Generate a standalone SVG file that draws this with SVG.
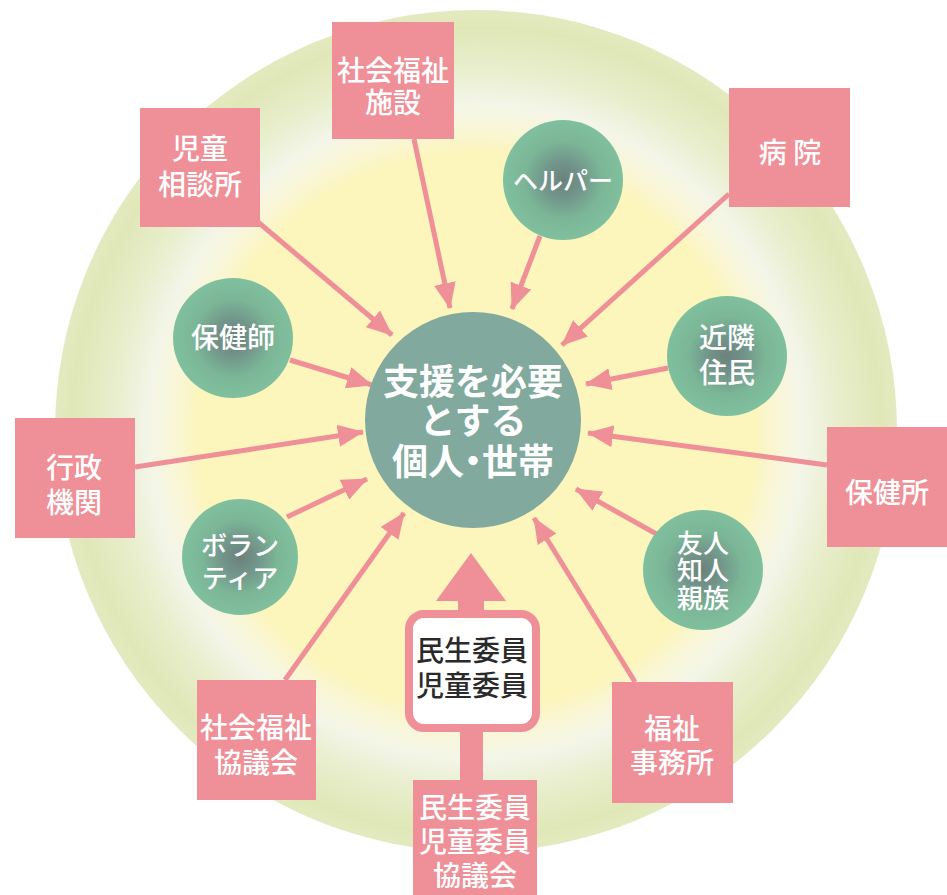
<svg xmlns="http://www.w3.org/2000/svg" width="947" height="895" viewBox="0 0 947 895">
<defs>
<radialGradient id="bg" cx="476" cy="431" r="421" gradientUnits="userSpaceOnUse">
<stop offset="0" stop-color="#fcf5bc"/>
<stop offset="0.66" stop-color="#fcf5bc"/>
<stop offset="0.72" stop-color="#f9f6d8"/>
<stop offset="0.78" stop-color="#f3f5e8"/>
<stop offset="0.86" stop-color="#e9eecd"/>
<stop offset="0.96" stop-color="#e0e7b7"/>
<stop offset="1" stop-color="#e4eac0"/>
</radialGradient>
<radialGradient id="gc">
<stop offset="0" stop-color="#6b827b"/>
<stop offset="0.3" stop-color="#72948a"/>
<stop offset="0.65" stop-color="#7bb697"/>
<stop offset="1" stop-color="#80c09e"/>
</radialGradient>
<marker id="ah" viewBox="0 0 26 22" refX="25" refY="11" markerWidth="26" markerHeight="22" markerUnits="userSpaceOnUse" orient="auto">
<path d="M0,0 L26,11 L0,22 z" fill="#ef8f97"/>
</marker>
<style>
.box{fill:#ef8f97}
.bt{font-family:"Noto Sans CJK JP","Noto Sans CJK SC",sans-serif;font-size:28px;fill:#fff;text-anchor:middle;font-weight:500}
.ct{font-family:"Noto Sans CJK JP","Noto Sans CJK SC",sans-serif;font-size:27px;fill:#fff;text-anchor:middle;font-weight:500}
.mt{font-family:"Noto Sans CJK JP","Noto Sans CJK SC",sans-serif;font-size:36px;fill:#fff;text-anchor:middle;font-weight:700}
.dt{font-family:"Noto Sans CJK JP","Noto Sans CJK SC",sans-serif;font-size:28px;fill:#2a2a2a;text-anchor:middle;font-weight:500}
.gcirc{fill:url(#gc)}
.ln{stroke:#ef8f97;stroke-width:5;fill:none;marker-end:url(#ah)}
</style>
</defs>
<rect width="947" height="895" fill="#ffffff"/>
<circle cx="476" cy="431" r="421" fill="url(#bg)"/>

<g id="connectors">
<line class="ln" x1="258" y1="222" x2="392" y2="335"/>
<line class="ln" x1="414" y1="139" x2="450" y2="308"/>
<line class="ln" x1="540" y1="236" x2="512" y2="309"/>
<line class="ln" x1="729" y1="194" x2="562" y2="345"/>
<line class="ln" x1="668" y1="368" x2="586" y2="384"/>
<line class="ln" x1="827" y1="465" x2="588" y2="433"/>
<line class="ln" x1="660" y1="536" x2="576" y2="489"/>
<line class="ln" x1="635" y1="682" x2="534" y2="518"/>
<line class="ln" x1="285" y1="680" x2="404" y2="513"/>
<line class="ln" x1="287" y1="517" x2="367" y2="479"/>
<line class="ln" x1="135" y1="467" x2="363" y2="432"/>
<line class="ln" x1="290" y1="360" x2="372" y2="385"/>
<g id="thick-arrow" fill="#ef8f97">
<polygon points="471,553 506,601 436,601"/>
<rect x="458" y="598" width="26" height="16"/>
<rect x="460" y="730" width="23" height="52"/>
</g>
</g>

<g id="center">
<circle cx="473" cy="420" r="108" fill="#81a99e"/>
<text class="mt" x="473" y="395">支援を必要</text>
<text class="mt" x="473" y="434">とする</text>
<text class="mt" x="473" y="475">個人<tspan dx="-9">・</tspan><tspan dx="-9">世帯</tspan></text>
</g>

<g id="shakai-fukushi-shisetsu">
<rect class="box" x="332" y="22" width="122" height="117"/>
<text class="bt" x="393" y="81">社会福祉</text>
<text class="bt" x="393" y="113">施設</text>
</g>
<g id="jido-sodanjo">
<rect class="box" x="140" y="108" width="120" height="119"/>
<text class="bt" x="200" y="159">児童</text>
<text class="bt" x="200" y="195">相談所</text>
</g>
<g id="byoin">
<rect class="box" x="729" y="88" width="121" height="119"/>
<text class="bt" x="790" y="163">病 院</text>
</g>
<g id="hokenjo">
<rect class="box" x="827" y="427" width="125" height="120"/>
<text class="bt" x="887" y="503">保健所</text>
</g>
<g id="gyosei-kikan">
<rect class="box" x="15" y="418" width="120" height="120"/>
<text class="bt" x="74" y="478">行政</text>
<text class="bt" x="74" y="513">機関</text>
</g>
<g id="shakyo">
<rect class="box" x="197" y="680" width="119" height="120"/>
<text class="bt" x="256" y="738">社会福祉</text>
<text class="bt" x="256" y="773">協議会</text>
</g>
<g id="fukushi-jimusho">
<rect class="box" x="612" y="682" width="121" height="121"/>
<text class="bt" x="672" y="739">福祉</text>
<text class="bt" x="672" y="773">事務所</text>
</g>
<g id="minsei-iin">
<rect x="409" y="614" width="127" height="114" rx="15" fill="#ffffff" stroke="#ef8f97" stroke-width="8"/>
<text class="dt" x="472" y="661">民生委員</text>
<text class="dt" x="472" y="696">児童委員</text>
</g>
<g id="minsei-kyogikai">
<rect class="box" x="413" y="780" width="124" height="120"/>
<text class="bt" x="475" y="818">民生委員</text>
<text class="bt" x="475" y="852">児童委員</text>
<text class="bt" x="475" y="886">協議会</text>
</g>

<g id="helper">
<circle class="gcirc" cx="563" cy="180" r="60"/>
<text class="ct" x="563" y="190" style="font-size:25px">ヘルパー</text>
</g>
<g id="hokenshi">
<circle class="gcirc" cx="233" cy="338" r="60"/>
<text class="ct" x="233" y="348" style="font-size:28px">保健師</text>
</g>
<g id="kinrin-jumin">
<circle class="gcirc" cx="727" cy="356" r="60"/>
<text class="ct" x="727" y="348" style="font-size:28px">近隣</text>
<text class="ct" x="727" y="383" style="font-size:28px">住民</text>
</g>
<g id="yujin">
<circle class="gcirc" cx="703" cy="570" r="60"/>
<text class="ct" x="703" y="553" style="font-size:26px">友人</text>
<text class="ct" x="703" y="580" style="font-size:26px">知人</text>
<text class="ct" x="703" y="608" style="font-size:26px">親族</text>
</g>
<g id="volunteer">
<circle class="gcirc" cx="240" cy="557" r="58"/>
<text class="ct" x="240" y="555" style="font-size:26px">ボラン</text>
<text class="ct" x="240" y="588" style="font-size:26px">ティア</text>
</g>
</svg>
